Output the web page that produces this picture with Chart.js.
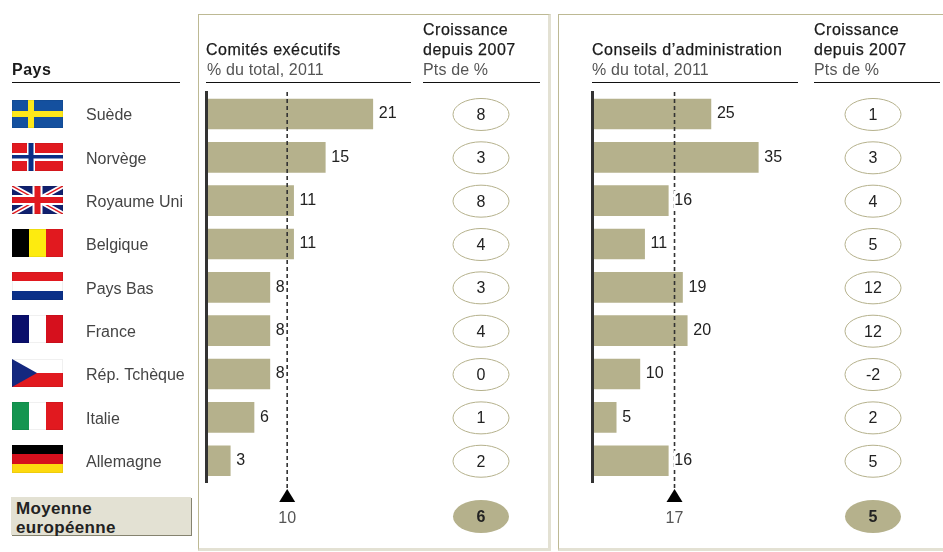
<!DOCTYPE html>
<html>
<head>
<meta charset="utf-8">
<script src="https://cdn.jsdelivr.net/npm/chart.js@4"></script>
<style>
  html, body { margin: 0; padding: 0; background: #fff; }
  body { position: relative; width: 943px; height: 552px; overflow: hidden; font-family: "Liberation Sans", sans-serif; }
  canvas { position: absolute; top: 0; }
  .panel { position: absolute; top: 14px; height: 533px; box-sizing: content-box; border: 1px solid #bdb994; border-right: 3px solid #e3e1d3; border-bottom: 3px solid #e3e1d3; }
  .t { position: absolute; white-space: nowrap; font-size: 16px; line-height: 20px; color: #1a1a1a; letter-spacing: .5px; -webkit-text-stroke: .25px #1a1a1a; z-index: 2; }
  .s { color: #555; letter-spacing: .15px; -webkit-text-stroke: 0; }
  .rule { position: absolute; top: 82px; height: 1px; background: #111; z-index: 2; }
  .moy { position: absolute; left: 11px; top: 497px; width: 180px; height: 38px; background: #e3e1d3; box-shadow: 1px 1px 0 #85836f; }
  .moy div { position: absolute; left: 5px; font-weight: bold; font-size: 17px; line-height: 19px; color: #222; letter-spacing: .35px; white-space: nowrap; }
</style>
</head>
<body>
<div class="panel" style="left:198px;width:349px"></div>
<div class="panel" style="left:558px;width:390px"></div>

<div class="t" style="left:12px;top:60px;font-weight:bold;-webkit-text-stroke:0">Pays</div>
<div class="rule" style="left:12px;width:168px"></div>

<div class="t" style="left:206px;top:39.5px">Comités exécutifs</div>
<div class="t s" style="left:207px;top:60px">% du total, 2011</div>
<div class="rule" style="left:206px;width:205px"></div>
<div class="t" style="left:423px;top:19.5px">Croissance</div>
<div class="t" style="left:423px;top:39.5px">depuis 2007</div>
<div class="t s" style="left:423px;top:60px">Pts de %</div>
<div class="rule" style="left:423px;width:117px"></div>

<div class="t" style="left:592px;top:39.5px">Conseils d’administration</div>
<div class="t s" style="left:592px;top:60px">% du total, 2011</div>
<div class="rule" style="left:592px;width:206px"></div>
<div class="t" style="left:814px;top:19.5px">Croissance</div>
<div class="t" style="left:814px;top:39.5px">depuis 2007</div>
<div class="t s" style="left:814px;top:60px">Pts de %</div>
<div class="rule" style="left:814px;width:126px"></div>

<div class="moy"><div style="top:2px">Moyenne</div><div style="top:21px">européenne</div></div>

<canvas id="execChart" width="553" height="552" style="left:0"></canvas>
<canvas id="boardChart" width="390" height="552" style="left:553px"></canvas>

<script>
const countries = ['Suède', 'Norvège', 'Royaume Uni', 'Belgique', 'Pays Bas', 'France', 'Rép. Tchèque', 'Italie', 'Allemagne'];
const execShare = [21, 15, 11, 11, 8, 8, 8, 6, 3];
const execGrowth = [8, 3, 8, 4, 3, 4, 0, 1, 2];
const execMean = 10;
const execMeanGrowth = 6;
const boardShare = [25, 35, 16, 11, 19, 20, 10, 5, 16];
const boardGrowth = [1, 3, 4, 5, 12, 12, -2, 2, 5];
const boardMean = 17;
const boardMeanGrowth = 5;

const BAR = '#b5b18c';

// each flag gets the box x, y, w, h
const flags = {
  'Suède': (c, x, y, w, h) => {
    c.fillStyle = '#14509f'; c.fillRect(x, y, w, h);
    c.fillStyle = '#fde81a'; c.fillRect(x + 16, y, 6, h); c.fillRect(x, y + 11, w, 6);
  },
  'Norvège': (c, x, y, w, h) => {
    c.fillStyle = '#e1191f'; c.fillRect(x, y, w, h);
    c.fillStyle = '#fff'; c.fillRect(x + 15, y, 8, h); c.fillRect(x, y + 10, w, 8);
    c.fillStyle = '#0b2f86'; c.fillRect(x + 16.5, y, 5, h); c.fillRect(x, y + 12, w, 3.5);
  },
  'Royaume Uni': (c, x, y, w, h) => {
    c.save();
    c.beginPath(); c.rect(x, y, w, h); c.clip();
    c.fillStyle = '#10206e'; c.fillRect(x, y, w, h);
    c.strokeStyle = '#fff'; c.lineWidth = 5;
    c.beginPath(); c.moveTo(x, y); c.lineTo(x + w, y + h); c.moveTo(x + w, y); c.lineTo(x, y + h); c.stroke();
    c.strokeStyle = '#e1191f'; c.lineWidth = 1.5;
    c.beginPath(); c.moveTo(x, y); c.lineTo(x + w, y + h); c.moveTo(x + w, y); c.lineTo(x, y + h); c.stroke();
    c.fillStyle = '#fff'; c.fillRect(x + w / 2 - 5, y, 10, h); c.fillRect(x, y + h / 2 - 5, w, 10);
    c.fillStyle = '#e1191f'; c.fillRect(x + w / 2 - 3, y, 6, h); c.fillRect(x, y + h / 2 - 3, w, 6);
    c.restore();
  },
  'Belgique': (c, x, y, w, h) => {
    c.fillStyle = '#000'; c.fillRect(x, y, 17, h);
    c.fillStyle = '#fdeb0f'; c.fillRect(x + 17, y, 17, h);
    c.fillStyle = '#e1191f'; c.fillRect(x + 34, y, 17, h);
  },
  'Pays Bas': (c, x, y, w, h) => {
    c.fillStyle = '#e1191f'; c.fillRect(x, y, w, 9);
    c.fillStyle = '#fff'; c.fillRect(x, y + 9, w, 10);
    c.fillStyle = '#0b3088'; c.fillRect(x, y + 19, w, 9);
  },
  'France': (c, x, y, w, h) => {
    c.fillStyle = '#0a0f6b'; c.fillRect(x, y, 17, h);
    c.fillStyle = '#fff'; c.fillRect(x + 17, y, 17, h);
    c.fillStyle = '#d6101d'; c.fillRect(x + 34, y, 17, h);
  },
  'Rép. Tchèque': (c, x, y, w, h) => {
    c.fillStyle = '#fff'; c.fillRect(x, y, w, h / 2);
    c.fillStyle = '#e1191f'; c.fillRect(x, y + h / 2, w, h / 2);
    c.fillStyle = '#14287f';
    c.beginPath(); c.moveTo(x, y); c.lineTo(x + 25, y + h / 2); c.lineTo(x, y + h); c.closePath(); c.fill();
  },
  'Italie': (c, x, y, w, h) => {
    c.fillStyle = '#149550'; c.fillRect(x, y, 17, h);
    c.fillStyle = '#fff'; c.fillRect(x + 17, y, 17, h);
    c.fillStyle = '#e1191f'; c.fillRect(x + 34, y, 17, h);
  },
  'Allemagne': (c, x, y, w, h) => {
    c.fillStyle = '#000'; c.fillRect(x, y, w, 9);
    c.fillStyle = '#d6101d'; c.fillRect(x, y + 9, w, 10);
    c.fillStyle = '#fdd90f'; c.fillRect(x, y + 19, w, 9);
  }
};

const flagPlugin = {
  id: 'flagPlugin',
  afterDraw(chart) {
    const c = chart.ctx, y = chart.scales.y;
    countries.forEach((name, i) => {
      const top = Math.round(y.getPixelForValue(i) - 14 - i * 0.25);
      flags[name](c, 12, top, 51, 28);
      c.strokeStyle = 'rgba(0,0,0,.06)';
      c.lineWidth = 1;
      c.strokeRect(12.5, top + 0.5, 50, 27);
    });
  }
};

function ellipse(c, cx, cy, ry, label, filled) {
  c.beginPath();
  c.ellipse(cx, cy, 28, ry, 0, 0, Math.PI * 2);
  if (filled) {
    c.fillStyle = BAR; c.fill();
  } else {
    c.strokeStyle = BAR; c.lineWidth = 1; c.stroke();
  }
  c.fillStyle = '#222';
  c.font = (filled ? 'bold ' : '') + '16px "Liberation Sans"';
  c.textAlign = 'center';
  c.textBaseline = 'middle';
  c.fillText(label, cx, cy + 1);
}

// bar labels, dashed mean line with its triangle, growth ellipses
// the reference draws its mean marks a bit right of the bar scale, hence the 1.5
function overlay(mean, growth, meanGrowth, growthX) {
  return {
    id: 'overlay',
    afterDatasetsDraw(chart) {
      const c = chart.ctx, x = chart.scales.x, y = chart.scales.y;
      const mx = x.getPixelForValue(mean) + 1.5;
      c.save();
      c.strokeStyle = '#333';
      c.lineWidth = 1.6;
      c.setLineDash([4, 3]);
      c.beginPath(); c.moveTo(mx, 92); c.lineTo(mx, 490); c.stroke();
      c.setLineDash([]);

      c.fillStyle = '#000';
      c.beginPath(); c.moveTo(mx, 489); c.lineTo(mx + 8, 502); c.lineTo(mx - 8, 502); c.closePath(); c.fill();

      c.font = '16px "Liberation Sans"';
      c.fillStyle = '#555';
      c.textAlign = 'center';
      c.textBaseline = 'middle';
      c.fillText(mean, mx, 519);

      chart.getDatasetMeta(0).data.forEach((bar, i) => {
        const txt = String(chart.data.datasets[0].data[i]);
        c.font = '16px "Liberation Sans"';
        const w = c.measureText(txt).width;
        c.fillStyle = '#fff';
        c.fillRect(bar.x + 5.5, bar.y - 10, w + 0.5, 18);
        c.fillStyle = '#222';
        c.textAlign = 'left';
        c.textBaseline = 'middle';
        c.fillText(txt, bar.x + 6, bar.y);
      });

      growth.forEach((v, i) => ellipse(c, growthX, y.getPixelForValue(i) + 0.5, 16, String(v), false));
      ellipse(c, growthX, 516.5, 16.5, String(meanGrowth), true);
      c.restore();
    }
  };
}

function barChart(id, values, xMax, yOpts, padding, plugins) {
  return new Chart(document.getElementById(id), {
    type: 'bar',
    data: {
      labels: countries,
      datasets: [{ data: values, backgroundColor: BAR, barThickness: 30 }]
    },
    options: {
      indexAxis: 'y',
      responsive: false,
      animation: false,
      devicePixelRatio: 1,
      layout: { padding: padding },
      plugins: { legend: { display: false }, tooltip: { enabled: false } },
      scales: {
        x: { display: false, min: 0, max: xMax },
        y: yOpts
      }
    },
    plugins: plugins
  });
}

barChart('execChart', execShare, 43, {
  grid: { display: false, drawTicks: false },
  border: { color: '#333', width: 3, z: 1 },
  afterFit: s => { s.width = 120.5; },
  ticks: {
    crossAlign: 'far',
    labelOffset: 2,
    color: '#444',
    font: { family: '"Liberation Sans"', size: 16 },
    autoSkip: false
  }
}, { left: 86, top: 92.3, bottom: 69.6, right: 6 }, [flagPlugin, overlay(execMean, execGrowth, execMeanGrowth, 481)]);

barChart('boardChart', boardShare, 74, {
  grid: { display: false, drawTicks: false },
  border: { color: '#333', width: 3, z: 1 },
  afterFit: s => { s.width = 39.5; },
  ticks: { display: false }
}, { left: 0, top: 92.3, bottom: 69.6, right: 0 }, [overlay(boardMean, boardGrowth, boardMeanGrowth, 320)]);
</script>
</body>
</html>
